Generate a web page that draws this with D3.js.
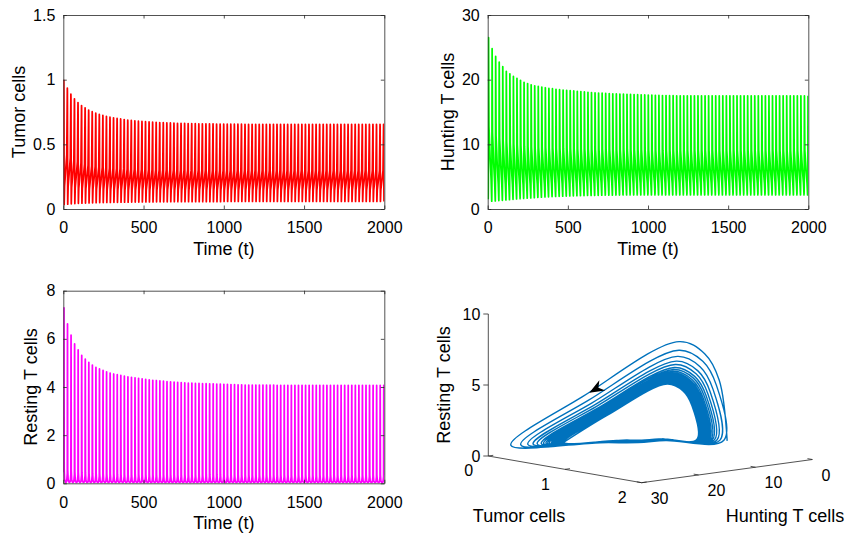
<!DOCTYPE html>
<html>
<head>
<meta charset="utf-8">
<script src="https://cdn.jsdelivr.net/npm/d3@7"></script>
<style>
  body { margin: 0; background: #fff; }
  svg text { font-family: "Liberation Sans", Arial, Helvetica, sans-serif; fill: #000; }
</style>
</head>
<body>
<svg id="fig" width="847" height="540"></svg>
<script>
// ---- values ----
const tEnd = 2000;
const cycleStart = 3;                 // first tumour peak
const cyclePeriod = 22.14;            // time between two tumour peaks
const timeTicks = [0, 500, 1000, 1500, 2000];

// one entry per oscillation, cycle k starts at t = cycleStart + k * cyclePeriod
const tumorPeaks = [
  1.000, 0.935, 0.888, 0.852, 0.823, 0.800, 0.782, 0.765, 0.752, 0.741,
  0.731, 0.723, 0.716, 0.710, 0.705, 0.700, 0.696, 0.692, 0.688, 0.685,
  0.682, 0.679, 0.677, 0.675, 0.673, 0.671, 0.670, 0.668, 0.667, 0.666,
  0.665, 0.664, 0.663, 0.662, 0.662, 0.661, 0.660, 0.660, 0.659, 0.659,
  0.658, 0.658, 0.658, 0.657, 0.657, 0.657, 0.656, 0.656, 0.656, 0.656,
  0.656, 0.655, 0.655, 0.655, 0.655, 0.655, 0.655, 0.655, 0.655, 0.655,
  0.655, 0.655, 0.655, 0.655, 0.655, 0.655, 0.655, 0.655, 0.655, 0.655,
  0.655, 0.655, 0.655, 0.655, 0.655, 0.655, 0.655, 0.655, 0.655, 0.655,
  0.655, 0.655, 0.655, 0.655, 0.655, 0.655, 0.655, 0.655, 0.655, 0.655,
  0.655
];
const tumorTroughs = [
  0.034, 0.037, 0.040, 0.042, 0.044, 0.045, 0.046, 0.047, 0.048, 0.049,
  0.050, 0.050, 0.051, 0.051, 0.052, 0.052, 0.053, 0.053, 0.053, 0.054,
  0.054, 0.054, 0.055, 0.055, 0.055, 0.055, 0.056, 0.056, 0.056, 0.056,
  0.057, 0.057, 0.057, 0.057, 0.057, 0.057, 0.057, 0.057, 0.057, 0.057,
  0.057, 0.057, 0.057, 0.057, 0.057, 0.058, 0.058, 0.058, 0.058, 0.058,
  0.058, 0.058, 0.058, 0.058, 0.058, 0.058, 0.058, 0.058, 0.058, 0.058,
  0.058, 0.058, 0.058, 0.058, 0.058, 0.058, 0.058, 0.058, 0.058, 0.058,
  0.058, 0.058, 0.058, 0.058, 0.058, 0.058, 0.058, 0.058, 0.058, 0.058,
  0.058, 0.058, 0.058, 0.058, 0.058, 0.058, 0.058, 0.058, 0.058, 0.058,
  0.058
];
const huntingPeaks = [
  26.5, 24.8, 23.6, 22.7, 22.0, 21.3, 20.9, 20.5, 20.2, 19.9,
  19.6, 19.4, 19.2, 19.05, 18.95, 18.85, 18.75, 18.65, 18.6, 18.5,
  18.45, 18.4, 18.35, 18.3, 18.25, 18.2, 18.15, 18.1, 18.05, 18.0,
  17.95, 17.92, 17.9, 17.87, 17.85, 17.82, 17.8, 17.78, 17.76, 17.74,
  17.72, 17.7, 17.68, 17.66, 17.64, 17.62, 17.6, 17.58, 17.56, 17.55,
  17.54, 17.53, 17.52, 17.51, 17.5, 17.5, 17.5, 17.5, 17.5, 17.5,
  17.5, 17.5, 17.5, 17.5, 17.5, 17.5, 17.5, 17.5, 17.5, 17.5,
  17.5, 17.5, 17.5, 17.5, 17.5, 17.5, 17.5, 17.5, 17.5, 17.5,
  17.5, 17.5, 17.5, 17.5, 17.5, 17.5, 17.5, 17.5, 17.5, 17.5,
  17.5
];
const huntingTroughs = [
  1.5, 1.2, 1.25, 1.3, 1.35, 1.4, 1.45, 1.5, 1.55, 1.6,
  1.64, 1.68, 1.72, 1.76, 1.8, 1.83, 1.86, 1.89, 1.92, 1.94,
  1.96, 1.98, 2.0, 2.02, 2.04, 2.06, 2.07, 2.08, 2.09, 2.1,
  2.11, 2.12, 2.13, 2.14, 2.15, 2.15, 2.16, 2.16, 2.17, 2.17,
  2.18, 2.18, 2.18, 2.18, 2.18, 2.18, 2.18, 2.18, 2.18, 2.18,
  2.18, 2.18, 2.18, 2.18, 2.18, 2.18, 2.18, 2.18, 2.18, 2.18,
  2.18, 2.18, 2.18, 2.18, 2.18, 2.18, 2.18, 2.18, 2.18, 2.18,
  2.18, 2.18, 2.18, 2.18, 2.18, 2.18, 2.18, 2.18, 2.18, 2.18,
  2.18, 2.18, 2.18, 2.18, 2.18, 2.18, 2.18, 2.18, 2.18, 2.18,
  2.18
];
const restingPeaks = [
  7.29, 6.62, 6.15, 5.79, 5.54, 5.31, 5.16, 5.02, 4.91, 4.82,
  4.75, 4.69, 4.63, 4.58, 4.54, 4.51, 4.48, 4.45, 4.42, 4.40,
  4.38, 4.36, 4.34, 4.32, 4.30, 4.28, 4.27, 4.25, 4.24, 4.22,
  4.21, 4.20, 4.19, 4.18, 4.17, 4.16, 4.16, 4.15, 4.15, 4.14,
  4.14, 4.13, 4.13, 4.12, 4.12, 4.11, 4.11, 4.10, 4.10, 4.09,
  4.09, 4.08, 4.08, 4.08, 4.08, 4.08, 4.08, 4.08, 4.08, 4.08,
  4.07, 4.07, 4.07, 4.07, 4.07, 4.07, 4.07, 4.07, 4.07, 4.07,
  4.07, 4.07, 4.07, 4.07, 4.07, 4.07, 4.07, 4.07, 4.07, 4.07,
  4.07, 4.07, 4.07, 4.07, 4.07, 4.07, 4.07, 4.07, 4.07, 4.07,
  4.07
];
const restingFloor = 0.02;

// shape of one cycle: phase within the period, and where each variable sits
// between its trough (0) and its peak (1) at that phase
const cyclePhase   = [0,    0.02, 0.035, 0.05, 0.08, 0.11, 0.22, 0.55, 0.84];
const tumorShape   = [1,    0.97, 0.85,  0.62, 0.2,  0,    0.15, 0.28, 0.4];
const huntingShape = [0,    0.04, 0.08,  0.14, 0.6,  1,    0.45, 0.25, 0.12];
const restingShape = [0.06, 0.65, 0.9,   1,    0.5,  0.08, 0.02, 0,    0.01];

// ---- build the trajectory from the cycle extremes ----
const trajectory = [];
tumorPeaks.forEach((_, k) => {
  cyclePhase.forEach((p, i) => {
    const t = cycleStart + (k + p) * cyclePeriod;
    if (t > tEnd) return;
    trajectory.push({
      t: t,
      tumor: tumorTroughs[k] + tumorShape[i] * (tumorPeaks[k] - tumorTroughs[k]),
      hunting: huntingTroughs[k] + huntingShape[i] * (huntingPeaks[k] - huntingTroughs[k]),
      resting: restingFloor + restingShape[i] * (restingPeaks[k] - restingFloor)
    });
  });
});

const svg = d3.select('#fig');
const axisColor = '#262626';

// styles the output of a d3 axis call
function styleAxis(g, fontSize) {
  g.attr('font-family', null).attr('font-size', fontSize);
  g.select('.domain').attr('stroke', axisColor).attr('stroke-width', 0.8);
  g.selectAll('.tick line').attr('stroke', axisColor).attr('stroke-width', 0.8);
  g.selectAll('.tick text').attr('fill', '#000');
}

// one time-series panel
function timePanel(p) {
  const x = d3.scaleLinear().domain([0, tEnd]).range([p.left, p.right]);
  const y = d3.scaleLinear().domain(p.yDomain).range([p.bottom, p.top]);
  const g = svg.append('g');

  svg.append('clipPath').attr('id', 'clip-' + p.key)
    .append('rect')
    .attr('x', p.left).attr('y', p.top)
    .attr('width', p.right - p.left).attr('height', p.bottom - p.top);

  g.append('path')
    .datum(trajectory)
    .attr('clip-path', `url(#clip-${p.key})`)
    .attr('fill', 'none')
    .attr('stroke', p.color)
    .attr('stroke-width', 1.75)
    .attr('stroke-linejoin', 'round')
    .attr('d', d3.line().x(d => x(d.t)).y(d => y(d[p.key])));

  // ticks point inward on all four sides
  g.append('g').attr('transform', `translate(0,${p.bottom})`)
    .call(d3.axisBottom(x).tickValues(timeTicks).tickSizeInner(-3.5).tickSizeOuter(0).tickPadding(13).tickFormat(d => d))
    .call(a => styleAxis(a, 16));
  g.append('g').attr('transform', `translate(0,${p.top})`)
    .call(d3.axisTop(x).tickValues(timeTicks).tickSizeInner(-3.5).tickSizeOuter(0).tickFormat(''))
    .call(a => styleAxis(a, 16));
  g.append('g').attr('transform', `translate(${p.left},0)`)
    .call(d3.axisLeft(y).tickValues(p.yTicks).tickSizeInner(-3.5).tickSizeOuter(0).tickPadding(8).tickFormat(d => d))
    .call(a => styleAxis(a, 16));
  g.append('g').attr('transform', `translate(${p.right},0)`)
    .call(d3.axisRight(y).tickValues(p.yTicks).tickSizeInner(-3.5).tickSizeOuter(0).tickFormat(''))
    .call(a => styleAxis(a, 16));

  g.append('text')
    .attr('x', (p.left + p.right) / 2).attr('y', p.bottom + 46)
    .attr('text-anchor', 'middle').attr('font-size', 18)
    .text('Time (t)');
  g.append('text')
    .attr('transform', `translate(${p.labelX},${(p.top + p.bottom) / 2}) rotate(-90)`)
    .attr('text-anchor', 'middle').attr('font-size', 18)
    .text(p.label);
}

timePanel({ key: 'tumor', left: 63.3, right: 384.3, top: 15, bottom: 209,
  yDomain: [0, 1.5], yTicks: [0, 0.5, 1, 1.5], color: '#ff0000', label: 'Tumor cells', labelX: 25 });
timePanel({ key: 'hunting', left: 487.7, right: 808.3, top: 15, bottom: 209,
  yDomain: [0, 30], yTicks: [0, 10, 20, 30], color: '#00ff00', label: 'Hunting T cells', labelX: 454 });
timePanel({ key: 'resting', left: 63.3, right: 384.3, top: 290.7, bottom: 483.3,
  yDomain: [0, 8], yTicks: [0, 2, 4, 6, 8], color: '#ff00ff', label: 'Resting T cells', labelX: 37 });

// ---- 3-D phase portrait, drawn as a fixed oblique projection ----
const view = {
  origin: [488.3, 456],        // tumour 0, hunting 30, resting 0
  tumorVec: [153.4, 26.7],     // screen offset for the whole tumour range
  huntingVec: [170.7, -23.2],  // screen offset for hunting 30 -> 0
  restingVec: [0, -142]        // screen offset for resting 0 -> 10
};
const tumor3 = d3.scaleLinear().domain([0, 2]).range([0, 1]);
const hunting3 = d3.scaleLinear().domain([30, 0]).range([0, 1]);
const resting3 = d3.scaleLinear().domain([0, 10]).range([0, 1]);

function project(T, H, R) {
  const a = tumor3(T), b = hunting3(H), c = resting3(R);
  return [
    view.origin[0] + a * view.tumorVec[0] + b * view.huntingVec[0] + c * view.restingVec[0],
    view.origin[1] + a * view.tumorVec[1] + b * view.huntingVec[1] + c * view.restingVec[1]
  ];
}

const g3 = svg.append('g');
const axisLine = (p0, p1) => g3.append('line')
  .attr('x1', p0[0]).attr('y1', p0[1]).attr('x2', p1[0]).attr('y2', p1[1])
  .attr('stroke', axisColor).attr('stroke-width', 0.8);

// resting axis (vertical)
axisLine(project(0, 30, 0), project(0, 30, 10));
resting3.ticks(2).forEach(v => {
  const [px, py] = project(0, 30, v);
  axisLine([px, py], [px - 5, py]);
  g3.append('text').attr('x', px - 8).attr('y', py).attr('dy', '0.35em')
    .attr('text-anchor', 'end').attr('font-size', 16).text(v);
});
// tumour axis
axisLine(project(0, 30, 0), project(2, 30, 0));
tumor3.ticks(2).forEach(v => {
  const [px, py] = project(v, 30, 0);
  axisLine([px, py], [px + 5 * 0.991, py - 5 * 0.135]);
  g3.append('text').attr('x', px - 19.5).attr('y', py + 14.8).attr('dy', '0.35em')
    .attr('text-anchor', 'middle').attr('font-size', 16).text(v);
});
// hunting axis
axisLine(project(2, 30, 0), project(2, 0, 0));
hunting3.ticks(3).forEach(v => {
  const [px, py] = project(2, v, 0);
  axisLine([px, py], [px - 5 * 0.985, py - 5 * 0.171]);
  g3.append('text').attr('x', px + 9).attr('y', py + 15.5).attr('dy', '0.35em')
    .attr('text-anchor', 'start').attr('font-size', 16).text(v);
});

g3.append('text')
  .attr('transform', 'translate(450,385) rotate(-90)')
  .attr('text-anchor', 'middle').attr('font-size', 18).text('Resting T cells');
g3.append('text').attr('x', 519).attr('y', 522)
  .attr('text-anchor', 'middle').attr('font-size', 18).text('Tumor cells');
g3.append('text').attr('x', 785).attr('y', 522)
  .attr('text-anchor', 'middle').attr('font-size', 18).text('Hunting T cells');

const pts3 = trajectory.map(d => project(d.tumor, d.hunting, d.resting));
g3.append('path')
  .attr('fill', 'none')
  .attr('stroke', '#0072bd')
  .attr('stroke-width', 1.4)
  .attr('d', d3.line().curve(d3.curveCatmullRom.alpha(0.5))(pts3));

// direction arrow on the first loop, a little before its upper-left point
const back = pts3[3];
const tip = d3.interpolate(pts3[4], back)(0.07);
const ang = Math.atan2(tip[1] - back[1], tip[0] - back[0]) * 180 / Math.PI;
g3.append('path')
  .attr('d', 'M0,0 L-15,-6 L-10.5,0 L-15,6 Z')
  .attr('fill', '#000')
  .attr('transform', `translate(${tip[0]},${tip[1]}) rotate(${ang})`);
</script>
</body>
</html>
